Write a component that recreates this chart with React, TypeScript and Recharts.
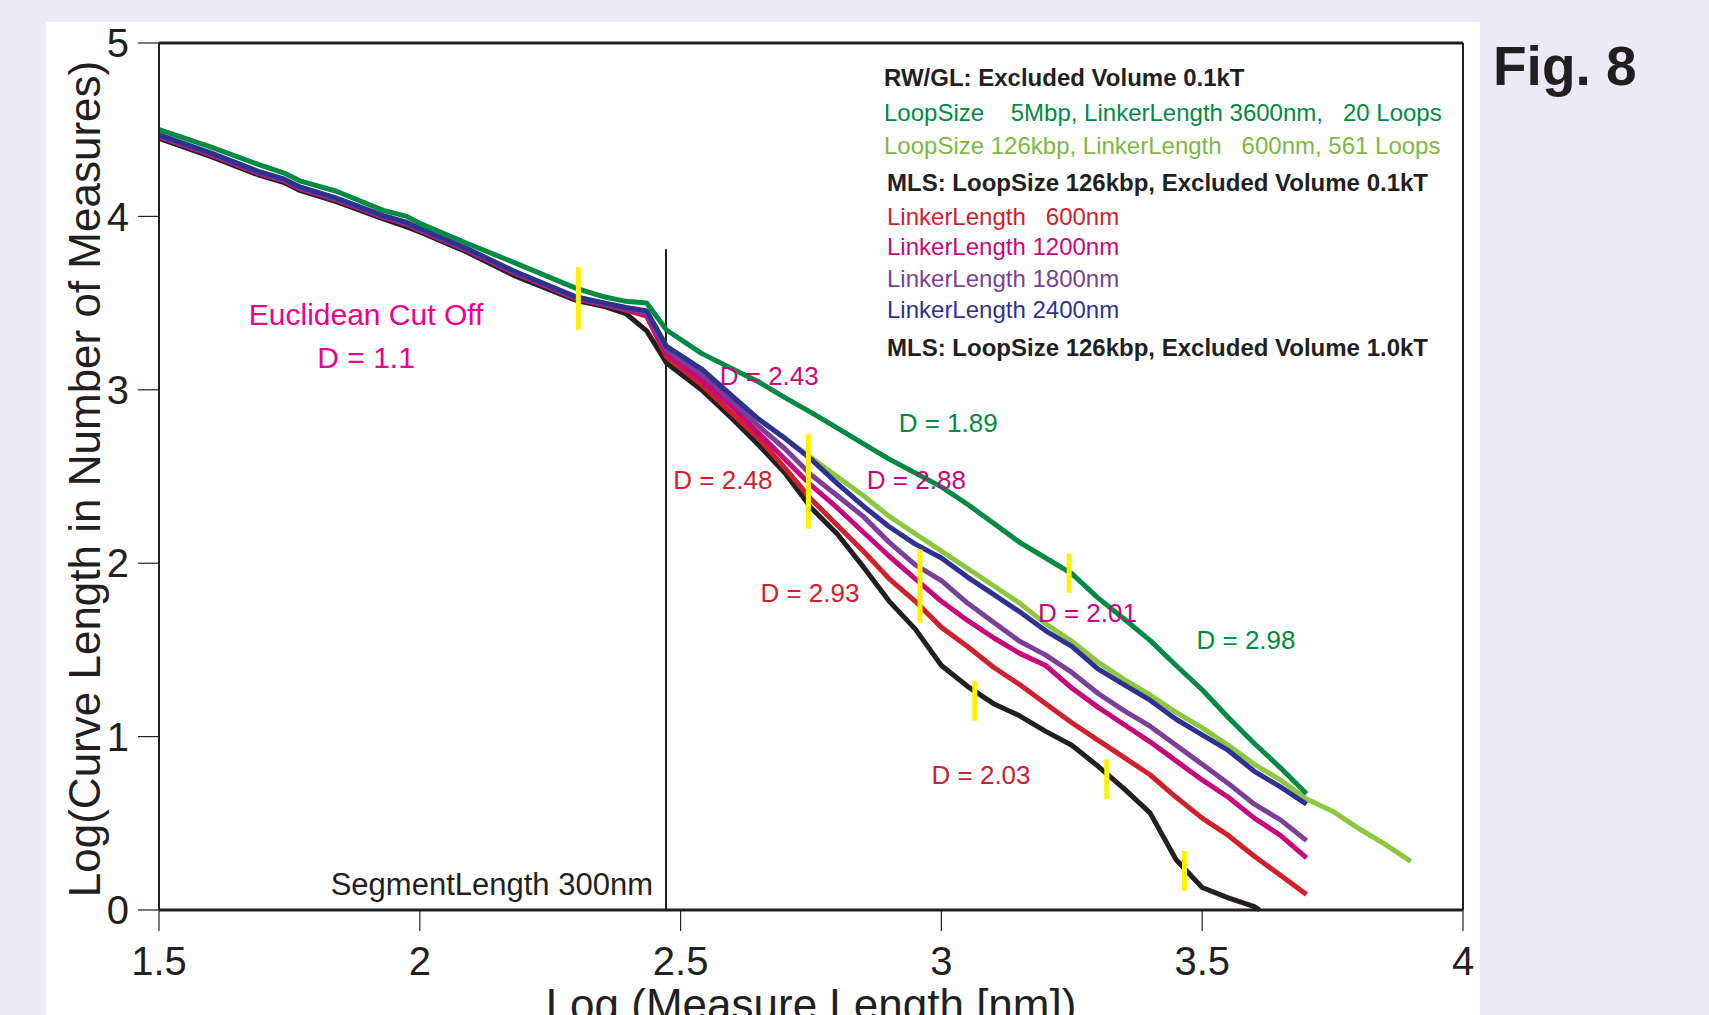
import { LineChart, Line, XAxis, YAxis, ReferenceLine, ReferenceDot } from "recharts";

const FONT = '"Liberation Sans", Arial, Helvetica, sans-serif';
const INK = "#231F20";

// log10 of measure length [nm]
const measureLength = [
  1.5, 1.6, 1.69, 1.74, 1.77, 1.84, 1.93, 1.975, 2.0, 2.09, 2.18, 2.3, 2.355, 2.395, 2.435,
  2.473, 2.54, 2.6, 2.65, 2.7, 2.75, 2.8, 2.85, 2.9, 2.95, 3.0, 3.05, 3.1, 3.15, 3.2, 3.25,
  3.3, 3.35, 3.4, 3.45, 3.5, 3.55, 3.6, 3.61, 3.65, 3.7, 3.75, 3.8, 3.85, 3.9,
];

// RW/GL: LoopSize 5Mbp, LinkerLength 3600nm, 20 Loops
const rwGl5Mbp = [
  4.5, 4.4, 4.3, 4.25, 4.205, 4.145, 4.035, 4.0, 3.96, 3.845, 3.735, 3.585, 3.535, 3.51, 3.5,
  3.345, 3.21, 3.12, 3.045, 2.955, 2.87, 2.78, 2.69, 2.6, 2.52, 2.44, 2.34, 2.23, 2.12, 2.03, 1.94,
  1.8, 1.68, 1.555, 1.41, 1.27, 1.11, 0.96, null, 0.82, 0.67, null, null, null, null,
];

// RW/GL: LoopSize 126kbp, LinkerLength 600nm, 561 Loops
const rwGl126kbp = [
  4.47, 4.365, 4.26, 4.215, 4.17, 4.105, 4.005, 3.965, 3.93, 3.815, 3.685, 3.535, 3.5, 3.475, 3.455,
  3.25, 3.12, 2.96, 2.83, 2.72, 2.61, 2.5, 2.39, 2.27, 2.17, 2.07, 1.97, 1.87, 1.77, 1.65, 1.55,
  1.43, 1.33, 1.24, 1.14, 1.05, 0.95, 0.84, null, 0.75, 0.64, 0.57, 0.47, 0.38, 0.28,
];

// MLS 0.1kT
const linker600 = [
  4.46, 4.355, 4.25, 4.205, 4.16, 4.095, 3.995, 3.955, 3.92, 3.805, 3.675, 3.525, 3.49, 3.46, 3.425,
  3.19, 3.03, 2.86, 2.72, 2.55, 2.37, 2.22, 2.07, 1.91, 1.78, 1.63, 1.52, 1.4, 1.3, 1.19, 1.08,
  0.98, 0.88, 0.78, 0.65, 0.53, 0.43, 0.31, null, 0.2, 0.09, null, null, null, null,
];
const linker1200 = [
  4.46, 4.355, 4.25, 4.205, 4.16, 4.095, 3.995, 3.955, 3.92, 3.805, 3.675, 3.525, 3.49, 3.465, 3.43,
  3.21, 3.06, 2.9, 2.75, 2.6, 2.45, 2.32, 2.18, 2.04, 1.91, 1.78, 1.67, 1.57, 1.48, 1.41, 1.28,
  1.17, 1.07, 0.97, 0.86, 0.75, 0.65, 0.53, null, 0.43, 0.3, null, null, null, null,
];
const linker1800 = [
  4.465, 4.36, 4.255, 4.21, 4.165, 4.1, 4.0, 3.96, 3.925, 3.81, 3.68, 3.53, 3.495, 3.47, 3.445,
  3.23, 3.09, 2.93, 2.79, 2.66, 2.51, 2.39, 2.27, 2.12, 1.99, 1.9, 1.77, 1.66, 1.55, 1.47, 1.37,
  1.25, 1.15, 1.06, 0.95, 0.84, 0.73, 0.61, null, 0.52, 0.4, null, null, null, null,
];
const linker2400 = [
  4.47, 4.365, 4.26, 4.215, 4.17, 4.105, 4.005, 3.965, 3.93, 3.815, 3.685, 3.535, 3.5, 3.475, 3.455,
  3.25, 3.12, 2.96, 2.83, 2.72, 2.6, 2.46, 2.33, 2.21, 2.11, 2.03, 1.92, 1.82, 1.72, 1.61, 1.52,
  1.39, 1.3, 1.21, 1.1, 1.01, 0.92, 0.8, null, 0.71, 0.61, null, null, null, null,
];

// MLS 1.0kT
const mls10kT = [
  4.45, 4.345, 4.24, 4.195, 4.15, 4.085, 3.985, 3.94, 3.91, 3.795, 3.66, 3.515, 3.48, 3.44, 3.34,
  3.155, 3.0, 2.83, 2.68, 2.52, 2.32, 2.17, 1.98, 1.78, 1.62, 1.41, 1.29, 1.19, 1.12, 1.03, 0.95,
  0.83, 0.7, 0.56, 0.29, 0.13, 0.07, 0.02, 0.0, null, null, null, null, null, null,
];

const series = [
  { key: "rwGl126kbp", values: rwGl126kbp, color: "#8DC63F" },
  { key: "mls10kT", values: mls10kT, color: INK },
  { key: "linker600", values: linker600, color: "#D0202E" },
  { key: "linker1200", values: linker1200, color: "#C8077D" },
  { key: "linker1800", values: linker1800, color: "#7B3F98" },
  { key: "linker2400", values: linker2400, color: "#2E3192" },
  { key: "rwGl5Mbp", values: rwGl5Mbp, color: "#008A43" },
];

const xTicks = [1.5, 2, 2.5, 3, 3.5, 4];
const yTicks = [0, 1, 2, 3, 4, 5];

// yellow crossover marks: x, lower y, upper y
const markX = [2.304, 2.745, 2.959, 3.245, 3.064, 3.317, 3.466];
const markLow = [3.345, 2.199, 1.657, 1.83, 1.092, 0.64, 0.111];
const markHigh = [3.706, 2.745, 2.08, 2.057, 1.321, 0.869, 0.34];

// slope labels
const noteText = ["Euclidean Cut Off", "D = 1.1", "D = 2.43", "D = 1.89", "D = 2.48", "D = 2.88", "D = 2.93", "D = 2.01", "D = 2.98", "D = 2.03"];
const noteX = [1.897, 1.897, 2.67, 3.013, 2.581, 2.952, 2.748, 3.28, 3.584, 3.076];
const noteY = [3.437, 3.19, 3.08, 2.81, 2.482, 2.482, 1.828, 1.716, 1.558, 0.779];
const noteColor = ["#EC008C", "#EC008C", "#C8077D", "#008A43", "#D0202E", "#C8077D", "#D0202E", "#C8077D", "#008A43", "#D0202E"];
const noteSize = [30, 30, 26, 26, 26, 26, 26, 26, 26, 26];

const segmentX = 2.472;
const segmentTop = 3.81;

const legendRows = [
  { text: "RW/GL: Excluded Volume 0.1kT", color: INK, bold: true, x: 884, y: 86 },
  { text: "LoopSize    5Mbp, LinkerLength 3600nm,   20 Loops", color: "#008A43", bold: false, x: 884, y: 121 },
  { text: "LoopSize 126kbp, LinkerLength   600nm, 561 Loops", color: "#7DB843", bold: false, x: 884, y: 154 },
  { text: "MLS: LoopSize 126kbp, Excluded Volume 0.1kT", color: INK, bold: true, x: 887, y: 191 },
  { text: "LinkerLength   600nm", color: "#D0202E", bold: false, x: 887, y: 225 },
  { text: "LinkerLength 1200nm", color: "#C8077D", bold: false, x: 887, y: 255 },
  { text: "LinkerLength 1800nm", color: "#7B3F98", bold: false, x: 887, y: 287 },
  { text: "LinkerLength 2400nm", color: "#2E3192", bold: false, x: 887, y: 318 },
  { text: "MLS: LoopSize 126kbp, Excluded Volume 1.0kT", color: INK, bold: true, x: 887, y: 356 },
];

const rows = measureLength.map((x, i) => {
  const row: Record<string, number | null> = { x };
  series.forEach((s) => {
    row[s.key] = s.values[i];
  });
  return row;
});

export default function App() {
  return (
    <div style={{ position: "relative", width: 1709, height: 1015, background: "#ECEBF5", overflow: "hidden", fontFamily: FONT }}>
      <style>{"body{margin:0}"}</style>
      <div style={{ position: "absolute", left: 46, top: 22, width: 1434, height: 1000, background: "#fff" }} />
      <div style={{ position: "absolute", left: 0, top: 0 }}>
        <LineChart width={1709} height={1015} data={rows} margin={{ top: 43, right: 246, bottom: 45, left: 99 }}>
          <XAxis
            dataKey="x"
            type="number"
            domain={[1.5, 4]}
            ticks={xTicks}
            height={60}
            tickSize={21}
            tickMargin={16}
            axisLine={{ stroke: INK, strokeWidth: 3 }}
            tickLine={{ stroke: INK, strokeWidth: 1.2 }}
            tick={{ fill: INK, fontSize: 40, fontFamily: FONT }}
          />
          <YAxis
            type="number"
            domain={[0, 5]}
            ticks={yTicks}
            width={60}
            tickSize={21}
            tickMargin={9}
            axisLine={{ stroke: INK, strokeWidth: 2 }}
            tickLine={{ stroke: INK, strokeWidth: 1.2 }}
            tick={{ fill: INK, fontSize: 40, fontFamily: FONT }}
          />
          <ReferenceLine y={5} stroke={INK} strokeWidth={3} />
          <ReferenceLine x={4} stroke={INK} strokeWidth={2} />
          <ReferenceLine
            segment={[{ x: segmentX, y: 0 }, { x: segmentX, y: segmentTop }]}
            stroke={INK}
            strokeWidth={2}
          />
          {series.map((s) => (
            <Line
              key={s.key}
              type="linear"
              dataKey={s.key}
              stroke={s.color}
              strokeWidth={5}
              strokeLinejoin="round"
              dot={false}
              activeDot={false}
              connectNulls
              isAnimationActive={false}
            />
          ))}
          {markX.map((x, i) => (
            <ReferenceLine
              key={"m" + i}
              segment={[{ x, y: markLow[i] }, { x, y: markHigh[i] }]}
              stroke="#FFF200"
              strokeWidth={5}
            />
          ))}
          {noteText.map((t, i) => (
            <ReferenceDot
              key={"n" + i}
              x={noteX[i]}
              y={noteY[i]}
              r={1}
              fill="none"
              stroke="none"
              label={{ value: t, position: "center", fill: noteColor[i], fontSize: noteSize[i], fontFamily: FONT }}
            />
          ))}
          <ReferenceDot
            x={2.449}
            y={0.15}
            r={1}
            fill="none"
            stroke="none"
            label={{ value: "SegmentLength 300nm", position: "left", offset: 0, fill: INK, fontSize: 31, fontFamily: FONT }}
          />
        </LineChart>
      </div>
      <svg width={1709} height={1015} style={{ position: "absolute", left: 0, top: 0, pointerEvents: "none" }}>
        {legendRows.map((r, i) => (
          <text
            key={i}
            x={r.x}
            y={r.y}
            fill={r.color}
            fontSize={24}
            fontWeight={r.bold ? 700 : 400}
            fontFamily={FONT}
            xmlSpace="preserve"
            style={{ whiteSpace: "pre" }}
          >
            {r.text}
          </text>
        ))}
        <text x={1493} y={85} fontSize={55} fontWeight={700} fill={INK} fontFamily={FONT}>
          Fig. 8
        </text>
        <text transform="translate(100, 479) rotate(-90)" textAnchor="middle" fontSize={44} fill={INK} fontFamily={FONT}>
          Log(Curve Length in Number of Measures)
        </text>
        <text x={811} y={1020} textAnchor="middle" fontSize={44} fill={INK} fontFamily={FONT}>
          Log (Measure Length [nm])
        </text>
      </svg>
    </div>
  );
}
